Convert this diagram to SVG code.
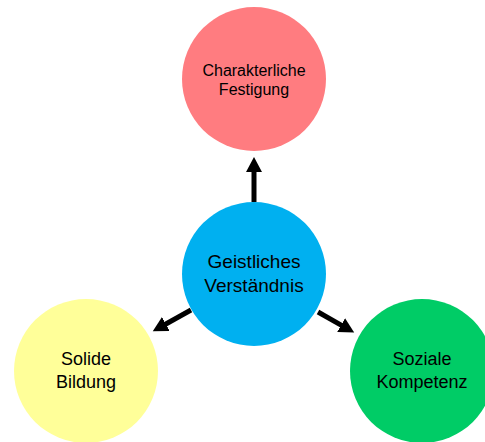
<svg xmlns="http://www.w3.org/2000/svg" width="485" height="442" viewBox="0 0 485 442">
  <style>
    .lbl { font-family: "Liberation Sans", Arial, sans-serif; fill: #000; text-anchor: middle; }
    .conn { stroke: #000; stroke-width: 5; fill: none; marker-end: url(#head); }
  </style>
  <defs>
    <marker id="head" markerUnits="userSpaceOnUse" markerWidth="16" markerHeight="17" refX="1" refY="8" orient="auto" viewBox="0 0 16 17">
      <path d="M0,0 L15,8 L0,16 Z" fill="#000"/>
    </marker>
  </defs>
  <rect width="485" height="442" fill="#fff"/>
  <g id="connectors">
    <line class="conn" x1="254" y1="202" x2="254" y2="171"/>
    <line class="conn" x1="191" y1="310" x2="165" y2="324.5"/>
    <line class="conn" x1="318" y1="312" x2="342" y2="325.6"/>
  </g>
  <g id="node-charakter">
    <circle cx="254" cy="79" r="72" fill="#FF7C80"/>
    <text class="lbl" font-size="16" x="254" y="76">Charakterliche</text>
    <text class="lbl" font-size="16" x="254" y="95">Festigung</text>
  </g>
  <g id="node-geistlich">
    <circle cx="254" cy="274" r="72" fill="#00B0F0"/>
    <text class="lbl" font-size="19" x="254" y="268">Geistliches</text>
    <text class="lbl" font-size="19" x="254" y="292">Verständnis</text>
  </g>
  <g id="node-bildung">
    <circle cx="86" cy="371" r="72" fill="#FFFF99"/>
    <text class="lbl" font-size="18" x="86" y="365">Solide</text>
    <text class="lbl" font-size="18" x="86" y="388">Bildung</text>
  </g>
  <g id="node-sozial">
    <circle cx="422" cy="371" r="72" fill="#00CC66"/>
    <text class="lbl" font-size="18" x="422" y="365">Soziale</text>
    <text class="lbl" font-size="18" x="422" y="388">Kompetenz</text>
  </g>
</svg>
